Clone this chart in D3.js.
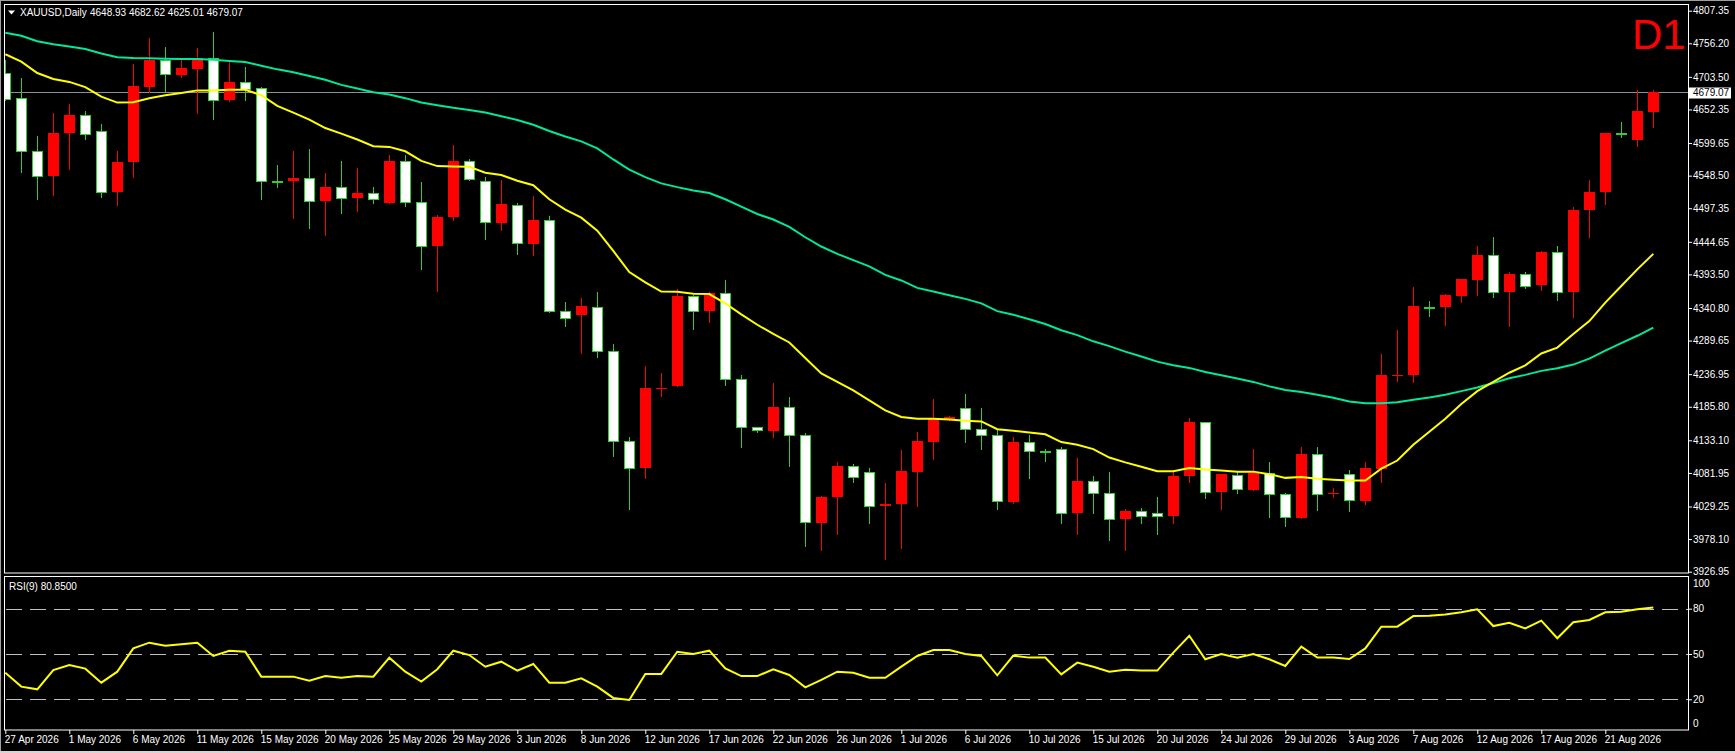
<!DOCTYPE html>
<html>
<head>
<meta charset="utf-8">
<script src="https://cdn.jsdelivr.net/npm/d3@7"></script>
<style>
  html, body { margin: 0; padding: 0; background: #000; overflow: hidden; }
  svg { display: block; }
</style>
</head>
<body>
<script>
// ---- data (daily bars, Sunday bars included) ----
const symbol = 'XAUUSD,Daily'
const lastQuote = '4648.93 4682.62 4625.01 4679.07'
const lastClose = 4679.07
const rsiTitle = 'RSI(9) 80.8500'
const timeframe = 'D1'

const tickLabels = ['27 Apr 2026', '1 May 2026', '6 May 2026', '11 May 2026', '15 May 2026', '20 May 2026',
  '25 May 2026', '29 May 2026', '3 Jun 2026', '8 Jun 2026', '12 Jun 2026', '17 Jun 2026', '22 Jun 2026',
  '26 Jun 2026', '1 Jul 2026', '6 Jul 2026', '10 Jul 2026', '15 Jul 2026', '20 Jul 2026', '24 Jul 2026',
  '29 Jul 2026', '3 Aug 2026', '7 Aug 2026', '12 Aug 2026', '17 Aug 2026', '21 Aug 2026']

const opens = [4709.5, 4670.1, 4587.3, 4547.3, 4615.1, 4643.5, 4618.6, 4522.4, 4569.3, 4688.0, 4730.3, 4706.6, 4715.3,
  4732.6, 4666.6, 4695.6, 4686.3, 4540.4, 4540.4, 4545.0, 4508.5, 4530.5, 4513.1, 4521.9, 4506.2, 4571.6,
  4507.4, 4437.9, 4483.1, 4571.6, 4540.4, 4474.9, 4502.7, 4441.9, 4479.0, 4336.5, 4330.2, 4342.9, 4274.0,
  4131.5, 4090.4, 4214.9, 4219.0, 4359.1, 4335.9, 4364.9, 4228.8, 4153.5, 4148.3, 4184.8, 4140.8, 4004.1,
  4043.5, 4092.7, 4082.9, 4029.6, 4032.5, 4082.9, 4130.9, 4165.7, 4183.1, 4150.6, 4140.8, 4036.6, 4129.8,
  4116.0, 4118.8, 4019.2, 4069.0, 4050.5, 4009.3, 4022.1, 4019.2, 4014.5, 4077.1, 4161.1, 4051.6, 4079.4,
  4055.7, 4081.1, 4049.3, 4011.6, 4111.8, 4049.5, 4080.0, 4038.3, 4087.5, 4234.9, 4235.8, 4342.4, 4342.4,
  4359.7, 4384.0, 4423.4, 4366.6, 4393.9, 4377.1, 4429.2, 4366.6, 4494.0, 4522.4, 4615.1, 4604.1, 4648.93]

const highs = [4730.5, 4701.9, 4611.0, 4647.5, 4661.4, 4650.4, 4630.1, 4587.9, 4723.9, 4764.5, 4750.6, 4731.5, 4748.9,
  4773.8, 4727.4, 4719.3, 4688.0, 4565.9, 4586.7, 4590.8, 4553.1, 4571.6, 4560.6, 4530.0, 4580.9, 4580.9,
  4539.2, 4486.5, 4597.1, 4575.1, 4546.2, 4542.1, 4505.0, 4517.2, 4485.9, 4350.4, 4356.2, 4365.5, 4283.8,
  4137.9, 4249.7, 4238.1, 4370.7, 4360.8, 4366.6, 4384.0, 4235.2, 4154.7, 4223.0, 4201.0, 4145.4, 4045.8,
  4099.1, 4096.2, 4089.8, 4066.7, 4118.2, 4146.6, 4198.7, 4170.9, 4205.6, 4184.2, 4149.5, 4137.9, 4140.8,
  4118.8, 4122.3, 4106.1, 4077.1, 4082.9, 4025.0, 4027.3, 4044.6, 4085.8, 4168.0, 4161.1, 4080.0, 4082.9,
  4118.8, 4098.5, 4050.5, 4123.4, 4123.4, 4058.6, 4086.9, 4098.5, 4268.2, 4305.8, 4373.6, 4352.2, 4362.6,
  4386.9, 4437.3, 4451.8, 4397.3, 4397.3, 4430.3, 4437.3, 4499.8, 4542.1, 4615.7, 4633.0, 4682.3, 4682.62]

const lows = [4666.6, 4554.9, 4511.4, 4518.9, 4559.5, 4606.4, 4514.3, 4502.1, 4545.6, 4679.4, 4679.4, 4703.7, 4647.5,
  4637.7, 4664.9, 4666.6, 4512.6, 4530.5, 4481.3, 4466.2, 4455.2, 4489.4, 4492.9, 4505.0, 4506.2, 4500.4,
  4401.4, 4367.8, 4479.0, 4542.1, 4448.9, 4463.9, 4426.3, 4424.6, 4334.8, 4312.2, 4269.9, 4263.6, 4108.9,
  4025.0, 4074.2, 4202.8, 4219.0, 4308.1, 4318.6, 4220.1, 4123.4, 4146.6, 4139.1, 4093.3, 3967.1, 3961.3,
  3985.6, 4067.2, 4002.9, 3946.2, 3963.6, 4030.8, 4103.2, 4165.1, 4130.9, 4118.8, 4025.0, 4035.4, 4074.2,
  4100.3, 4002.9, 3985.6, 4019.2, 3976.9, 3961.3, 4004.1, 3985.6, 4002.9, 4068.4, 4042.4, 4025.0, 4051.0,
  4055.7, 4013.4, 3998.9, 4010.5, 4023.3, 4043.5, 4022.1, 4032.5, 4068.4, 4226.5, 4224.8, 4327.8, 4314.5,
  4350.4, 4360.8, 4357.9, 4312.8, 4372.4, 4368.4, 4353.9, 4326.1, 4452.4, 4503.9, 4608.7, 4594.8, 4625.01]

const closes = [4669.3, 4587.3, 4547.9, 4615.7, 4644.0, 4613.3, 4523.0, 4570.5, 4689.8, 4730.3, 4707.7, 4717.6, 4732.6,
  4667.2, 4695.6, 4685.1, 4540.4, 4540.0, 4545.0, 4508.5, 4531.1, 4513.1, 4521.9, 4512.0, 4572.2, 4506.8,
  4438.5, 4484.2, 4572.2, 4543.3, 4475.5, 4503.3, 4442.5, 4479.6, 4335.9, 4324.4, 4343.5, 4273.4, 4131.5,
  4090.4, 4214.9, 4216.0, 4359.1, 4336.5, 4364.9, 4228.8, 4153.5, 4149.5, 4184.8, 4140.8, 4004.7, 4044.6,
  4092.7, 4075.4, 4029.6, 4033.7, 4085.2, 4132.1, 4168.0, 4169.7, 4150.6, 4140.8, 4037.7, 4130.4, 4115.9,
  4115.5, 4019.2, 4069.6, 4050.5, 4009.3, 4022.6, 4014.5, 4014.5, 4077.1, 4162.2, 4051.6, 4080.0, 4056.2,
  4081.1, 4048.2, 4013.4, 4111.8, 4048.2, 4050.0, 4039.5, 4089.8, 4235.8, 4235.5, 4343.5, 4341.0, 4360.8,
  4385.8, 4423.4, 4366.6, 4393.9, 4375.3, 4429.2, 4366.6, 4495.2, 4523.0, 4615.7, 4613.3, 4650.4, 4679.07]

// moving averages as drawn (yellow = fast, green = slow)
const fastMA = [4739.0, 4727.4, 4709.5, 4700.2, 4695.6, 4687.5, 4672.4, 4663.1, 4663.7, 4670.1, 4674.7, 4678.2, 4682.3,
  4682.3, 4683.4, 4683.4, 4674.7, 4657.9, 4647.5, 4636.5, 4623.2, 4614.5, 4605.2, 4594.8, 4593.6, 4586.7,
  4571.6, 4563.5, 4563.0, 4562.4, 4553.1, 4549.6, 4540.4, 4533.4, 4511.4, 4495.2, 4482.5, 4462.2, 4430.3,
  4397.3, 4381.1, 4366.6, 4366.1, 4363.2, 4362.6, 4348.1, 4330.7, 4314.5, 4300.1, 4286.7, 4262.4, 4238.1,
  4224.8, 4211.4, 4195.8, 4180.2, 4169.8, 4166.9, 4166.9, 4165.7, 4164.0, 4162.8, 4150.6, 4148.3, 4145.4,
  4142.5, 4130.4, 4126.3, 4119.4, 4106.1, 4098.5, 4091.6, 4084.6, 4084.6, 4089.8, 4087.5, 4085.8, 4084.0,
  4084.0, 4080.0, 4074.2, 4075.4, 4073.0, 4071.3, 4070.1, 4070.1, 4088.7, 4101.4, 4126.3, 4146.6, 4166.9,
  4190.0, 4210.3, 4224.8, 4239.2, 4250.8, 4269.4, 4278.6, 4300.1, 4320.3, 4349.3, 4375.3, 4401.4, 4425.7]

const slowMA = [4772.6, 4768.0, 4759.3, 4754.6, 4751.2, 4747.1, 4740.2, 4734.4, 4733.2, 4732.6, 4732.1, 4731.5, 4731.5,
  4730.3, 4728.6, 4726.9, 4721.1, 4715.3, 4710.6, 4704.9, 4699.1, 4690.9, 4685.1, 4679.4, 4675.9, 4670.1,
  4663.4, 4659.1, 4655.0, 4651.6, 4647.5, 4641.7, 4635.9, 4628.4, 4618.6, 4609.9, 4602.3, 4591.3, 4573.9,
  4557.8, 4546.2, 4536.3, 4530.5, 4525.3, 4521.3, 4511.4, 4499.8, 4488.3, 4479.6, 4468.0, 4451.8, 4437.3,
  4425.7, 4415.9, 4406.0, 4392.7, 4384.0, 4372.4, 4366.6, 4360.9, 4355.1, 4348.1, 4335.9, 4330.2, 4323.2,
  4315.7, 4305.8, 4298.3, 4288.5, 4280.9, 4272.3, 4264.7, 4256.6, 4250.8, 4246.8, 4240.4, 4235.2, 4230.0,
  4224.8, 4217.8, 4212.0, 4209.1, 4204.5, 4199.9, 4194.1, 4191.2, 4191.2, 4192.9, 4196.9, 4200.4, 4204.5,
  4210.3, 4216.1, 4223.0, 4230.6, 4235.8, 4242.1, 4246.2, 4252.0, 4261.3, 4274.0, 4285.6, 4297.2, 4309.9]

const rsiValues = [37.6, 28.4, 26.6, 39.4, 42.7, 40.3, 31.0, 38.3, 53.7, 57.5, 55.5, 56.4, 57.5,
  48.7, 52.2, 51.5, 35.0, 35.0, 35.0, 32.3, 35.4, 34.3, 35.4, 35.0, 47.6, 38.3,
  31.7, 39.9, 52.2, 49.3, 41.6, 44.9, 39.0, 43.4, 31.0, 31.0, 33.9, 28.4, 20.9,
  19.6, 36.8, 36.8, 51.5, 50.0, 52.2, 40.5, 35.4, 35.4, 39.9, 36.1, 27.9, 32.8,
  38.3, 37.6, 34.3, 34.3, 41.6, 48.7, 52.6, 52.6, 50.0, 48.7, 35.9, 48.9, 47.6,
  47.6, 36.5, 44.3, 41.6, 38.3, 39.5, 39.0, 39.0, 50.9, 62.1, 46.5, 50.0, 47.6,
  50.0, 46.5, 42.1, 54.9, 47.6, 47.6, 46.7, 53.7, 68.1, 68.1, 75.1, 75.4, 76.2,
  77.6, 79.6, 68.5, 70.7, 67.0, 72.1, 60.4, 71.0, 72.5, 77.6, 78.0, 79.6, 80.85]

const priceTicks = [4807.35, 4756.20, 4703.50, 4652.35, 4599.65, 4548.50, 4497.35, 4444.65, 4393.50,
  4340.80, 4289.65, 4236.95, 4185.80, 4133.10, 4081.95, 4029.25, 3978.10, 3926.95]
const rsiLevels = [80, 50, 20]

// ---- layout ----
const fontFamily = '"Liberation Sans", Arial, sans-serif'
const bullColor = '#ff0000'
const bearColor = '#32cd32'
const main = { left: 5, right: 1688, top: 5, bottom: 573 }
const sub = { left: 5, right: 1688, top: 577, bottom: 730 }

let svg = d3.select('body').append('svg')
            .attr('width', 1735)
            .attr('height', 753)

svg.append('rect')
   .attr('width', '100%')
   .attr('height', '100%')
   .attr('fill', 'black')

let x = d3.scaleLinear().domain([0, closes.length - 1]).range([5.3, 1653.3])
let y = d3.scaleLinear().domain([3926.95, 4807.35]).range([571.7, 10.7])
let yRsi = d3.scaleLinear().domain([0, 100]).range([729.5, 578.5])
let px = i => Math.round(x(i)) + 0.5

let defs = svg.append('defs')
defs.append('clipPath').attr('id', 'clip-main')
    .append('rect')
    .attr('x', main.left).attr('y', main.top)
    .attr('width', main.right - main.left).attr('height', main.bottom - main.top)
defs.append('clipPath').attr('id', 'clip-sub')
    .append('rect')
    .attr('x', sub.left).attr('y', sub.top)
    .attr('width', sub.right - sub.left).attr('height', sub.bottom - sub.top)

drawFrames()
drawPricePanel()
drawRsiPanel()
drawAxes()
drawLabels()

function drawFrames() {
    svg.append('line')
       .attr('x1', 0).attr('x2', 1735).attr('y1', 0.5).attr('y2', 0.5)
       .attr('stroke', '#a0a0a0')
    svg.append('line')
       .attr('x1', 0.5).attr('x2', 0.5).attr('y1', 0).attr('y2', 753)
       .attr('stroke', '#a0a0a0')
    svg.append('rect')
       .attr('x', 0).attr('y', 751).attr('width', 1735).attr('height', 2)
       .attr('fill', '#d4d4d4')

    for (let p of [main, sub]) {
        svg.append('rect')
           .attr('x', p.left - 0.5)
           .attr('y', p.top - 0.5)
           .attr('width', p.right - p.left + 1)
           .attr('height', p.bottom - p.top + 0.5)
           .attr('fill', 'none')
           .attr('stroke', 'white')
           .attr('stroke-width', 1)
    }
}

function drawPricePanel() {
    let group = svg.append('g').attr('clip-path', 'url(#clip-main)')

    // last price line
    group.append('line')
         .attr('x1', main.left).attr('x2', main.right)
         .attr('y1', Math.round(y(lastClose)) + 0.5)
         .attr('y2', Math.round(y(lastClose)) + 0.5)
         .attr('stroke', '#8a9099')
         .attr('stroke-width', 1)

    let bars = d3.range(closes.length).map(i => ({
        i, o: opens[i], h: highs[i], l: lows[i], c: closes[i], bull: closes[i] > opens[i]
    }))

    group.append('g').selectAll('line')
         .data(bars)
         .join('line')
         .attr('x1', d => px(d.i))
         .attr('x2', d => px(d.i))
         .attr('y1', d => Math.round(y(d.h)))
         .attr('y2', d => Math.round(y(d.l)) + 1)
         .attr('stroke', d => d.bull ? bullColor : bearColor)
         .attr('stroke-width', 1)

    group.append('g').selectAll('rect')
         .data(bars.filter(d => d.bull))
         .join('rect')
         .attr('x', d => px(d.i) - 5.5)
         .attr('width', 11)
         .attr('y', d => Math.round(y(d.c)))
         .attr('height', d => Math.max(1, Math.round(y(d.o)) - Math.round(y(d.c))))
         .attr('fill', bullColor)

    group.append('g').selectAll('rect')
         .data(bars.filter(d => !d.bull))
         .join('rect')
         .attr('x', d => px(d.i) - 5)
         .attr('width', 10)
         .attr('y', d => Math.round(y(d.o)) + 0.5)
         .attr('height', d => Math.max(1, Math.round(y(d.c)) - Math.round(y(d.o))))
         .attr('fill', 'white')
         .attr('stroke', bearColor)
         .attr('stroke-width', 1)

    let line = d3.line().x((d, i) => x(i)).y(d => y(d))

    group.append('path')
         .datum(slowMA)
         .attr('d', line)
         .attr('fill', 'none')
         .attr('stroke', '#00e89a')
         .attr('stroke-width', 2)

    group.append('path')
         .datum(fastMA)
         .attr('d', line)
         .attr('fill', 'none')
         .attr('stroke', '#ffff00')
         .attr('stroke-width', 2)
}

function drawRsiPanel() {
    let group = svg.append('g').attr('clip-path', 'url(#clip-sub)')

    group.selectAll('line')
         .data(rsiLevels)
         .join('line')
         .attr('x1', sub.left + 1).attr('x2', sub.right)
         .attr('y1', d => Math.round(yRsi(d)) + 0.5)
         .attr('y2', d => Math.round(yRsi(d)) + 0.5)
         .attr('stroke', '#c0c0c0')
         .attr('stroke-width', 1)
         .attr('stroke-dasharray', '16,8')

    group.append('path')
         .datum(rsiValues)
         .attr('d', d3.line().x((d, i) => x(i)).y(d => yRsi(d)))
         .attr('fill', 'none')
         .attr('stroke', '#ffff00')
         .attr('stroke-width', 2)
}

function styleAxis(g) {
    g.select('.domain').remove()
    g.selectAll('line').attr('stroke', 'white')
    g.selectAll('text')
     .attr('fill', 'white')
     .attr('font-family', fontFamily)
     .attr('font-size', '10px')
}

function drawAxes() {
    svg.append('g')
       .attr('transform', `translate(${main.right},0)`)
       .call(d3.axisRight(y).tickValues(priceTicks).tickFormat(d3.format('.2f')).tickSize(4).tickPadding(1))
       .call(styleAxis)

    svg.append('g')
       .attr('transform', `translate(${sub.right},0)`)
       .call(d3.axisRight(yRsi).tickValues(rsiLevels).tickSize(4).tickPadding(1))
       .call(styleAxis)

    // end labels of the RSI scale sit just inside the panel
    svg.append('text')
       .attr('x', sub.right + 5).attr('y', yRsi(100) + 5).attr('dy', '0.32em')
       .attr('fill', 'white').attr('font-family', fontFamily).attr('font-size', '10px')
       .text('100')
    svg.append('text')
       .attr('x', sub.right + 5).attr('y', yRsi(0) - 6).attr('dy', '0.32em')
       .attr('fill', 'white').attr('font-family', fontFamily).attr('font-size', '10px')
       .text('0')

    let tickIndex = tickLabels.map((d, k) => k * 4)
    svg.append('g')
       .attr('transform', `translate(0,${sub.bottom})`)
       .call(d3.axisBottom(x).tickValues(tickIndex).tickFormat((d, k) => tickLabels[k]).tickSize(4).tickPadding(2))
       .call(styleAxis)
       .call(g => g.selectAll('text').attr('text-anchor', 'start').attr('x', -1))

    // current price marker
    let yLast = Math.round(y(lastClose))
    svg.append('rect')
       .attr('x', main.right + 1).attr('y', yLast - 4.5)
       .attr('width', 42).attr('height', 11)
       .attr('fill', 'white')
    svg.append('text')
       .attr('x', main.right + 5).attr('y', yLast + 1).attr('dy', '0.32em')
       .attr('fill', 'black').attr('font-family', fontFamily).attr('font-size', '10px')
       .text(d3.format('.2f')(lastClose))
}

function drawLabels() {
    svg.append('path')
       .attr('d', 'M8,10.5 L15,10.5 L11.5,14.5 Z')
       .attr('fill', 'white')

    svg.append('text')
       .attr('x', 20).attr('y', 16)
       .attr('fill', 'white').attr('font-family', fontFamily).attr('font-size', '10px')
       .text(symbol)

    svg.append('text')
       .attr('x', 90).attr('y', 16)
       .attr('fill', 'white').attr('font-family', fontFamily).attr('font-size', '10px')
       .text(lastQuote)

    svg.append('text')
       .attr('x', 9).attr('y', 589.5)
       .attr('fill', 'white').attr('font-family', fontFamily).attr('font-size', '10px')
       .text(rsiTitle)

    svg.append('text')
       .attr('x', 1632).attr('y', 49)
       .attr('fill', '#ff0000').attr('font-family', fontFamily).attr('font-size', '42px')
       .text(timeframe)
}
</script>
</body>
</html>
